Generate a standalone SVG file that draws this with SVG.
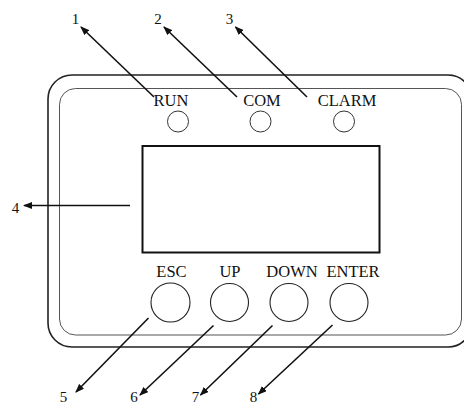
<svg xmlns="http://www.w3.org/2000/svg" width="464" height="404" viewBox="0 0 464 404">
<style>
text{font-family:"Liberation Serif","Times New Roman",serif;fill:#111}
.lbl{font-size:16.5px}
.num{font-size:15px}
.lead{stroke:#111;stroke-width:1.6;fill:none;marker-end:url(#ah)}
.led{fill:none;stroke:#333;stroke-width:1}
.btn{fill:none;stroke:#222;stroke-width:1.1}
</style>
<defs>
<marker id="ah" markerUnits="userSpaceOnUse" markerWidth="9" markerHeight="7" refX="8" refY="3.5" orient="auto">
<path d="M0,0 L9,3.5 L0,7 Z" fill="#111"/>
</marker>
</defs>
<rect width="464" height="404" fill="#fff"/>
<g id="panel">
<rect x="48" y="75" width="424" height="272" rx="24" ry="24" fill="none" stroke="#222" stroke-width="1.6"/>
<rect x="59.5" y="88.5" width="402" height="246.5" rx="16" ry="16" fill="none" stroke="#555" stroke-width="1"/>
</g>
<g id="screen">
<rect x="142.5" y="146" width="237" height="106.5" fill="none" stroke="#111" stroke-width="2"/>
</g>
<g id="run">
<text class="lbl" x="171" y="106" text-anchor="middle">RUN</text>
<circle class="led" cx="178" cy="121.5" r="10.5"/>
</g>
<g id="com">
<text class="lbl" x="262" y="106" text-anchor="middle">COM</text>
<circle class="led" cx="260.5" cy="121.5" r="10.5"/>
</g>
<g id="clarm">
<text class="lbl" x="347" y="106" text-anchor="middle">CLARM</text>
<circle class="led" cx="344" cy="121.5" r="10.5"/>
</g>
<g id="esc">
<text class="lbl" x="171.5" y="277" text-anchor="middle">ESC</text>
<circle class="btn" cx="170.5" cy="302.5" r="19.5"/>
</g>
<g id="up">
<text class="lbl" x="230" y="277" text-anchor="middle">UP</text>
<circle class="btn" cx="229.5" cy="302.5" r="19"/>
</g>
<g id="down">
<text class="lbl" x="292" y="277" text-anchor="middle">DOWN</text>
<circle class="btn" cx="289" cy="302.5" r="19"/>
</g>
<g id="enter">
<text class="lbl" x="353" y="277" text-anchor="middle">ENTER</text>
<circle class="btn" cx="349" cy="302.5" r="19"/>
</g>
<g id="numbers">
<text class="num" x="75.5" y="24" text-anchor="middle">1</text>
<text class="num" x="158" y="24" text-anchor="middle">2</text>
<text class="num" x="229.5" y="24" text-anchor="middle">3</text>
<text class="num" x="15.5" y="213" text-anchor="middle">4</text>
<text class="num" x="63.5" y="402" text-anchor="middle">5</text>
<text class="num" x="134" y="402" text-anchor="middle">6</text>
<text class="num" x="195.5" y="402" text-anchor="middle">7</text>
<text class="num" x="253.5" y="402" text-anchor="middle">8</text>
</g>
<g id="connectors">
<line class="lead" x1="154" y1="97" x2="81" y2="27"/>
<line class="lead" x1="237" y1="97" x2="164" y2="27"/>
<line class="lead" x1="307" y1="97" x2="235.5" y2="27"/>
<line class="lead" x1="130" y1="205.5" x2="24" y2="205.5"/>
<line class="lead" x1="148.5" y1="318" x2="76" y2="392"/>
<line class="lead" x1="213.5" y1="325.5" x2="140" y2="395"/>
<line class="lead" x1="272.5" y1="325.5" x2="200.5" y2="395"/>
<line class="lead" x1="332.5" y1="325" x2="258.5" y2="394"/>
</g>
</svg>
